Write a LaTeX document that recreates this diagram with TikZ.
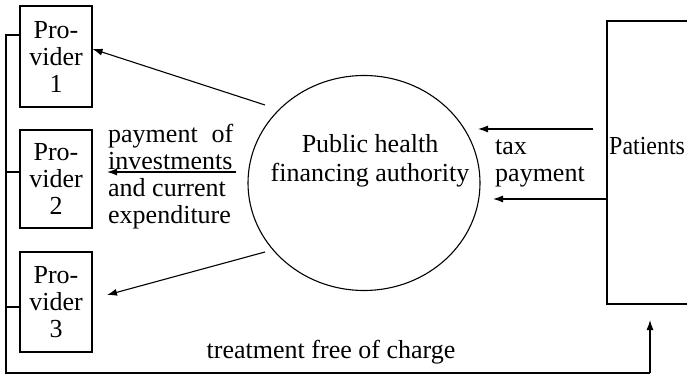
\documentclass[tikz,border=0pt]{standalone}
\usepackage{fontspec}
\setmainfont{Liberation Serif}
\usetikzlibrary{arrows.meta,shapes.geometric}
\begin{document}
\begin{tikzpicture}[x=1pt,y=-1pt,
  every node/.style={font=\fontsize{26}{27}\selectfont},
  prov/.style={draw,line width=1.1pt,minimum width=72pt,minimum height=101pt,inner sep=0pt,align=center},
  lab/.style={inner sep=0pt,anchor=base west},
  flow/.style={line width=1.1pt,-{Latex[length=10pt,width=7pt]}},
  plain/.style={line width=1.1pt}]
\clip (0,0) rectangle (687,379);
\node[prov] (p1) at (56,56.5) {Pro-\\vider\\1};
\node[prov,minimum height=98pt] (p2) at (56,179) {Pro-\\vider\\2};
\node[prov,minimum height=100pt] (p3) at (56,302) {Pro-\\vider\\3};
\node[draw,ellipse,line width=1.1pt,minimum width=232pt,minimum height=215pt,inner sep=0pt] (auth) at (364,183) {};
\node[inner sep=0pt,anchor=base,font=\fontsize{26}{29}\selectfont] (authtxt) at (370,153) {\begin{tabular}[t]{@{}c@{}}Public health\\financing authority\end{tabular}};
\node[draw,line width=1.1pt,minimum width=100pt,minimum height=283pt,inner sep=0pt] (pat) at (657,162.5) {};
\node[lab] (pattxt) at (609,155) {\scalebox{0.92}[1]{Patients}};
\node[lab] (paylab) at (108,143) {\begin{tabular}[t]{@{}l@{}}\hbox to 125pt{payment\hfill of}\\investments\\and current\\expenditure\end{tabular}};
\node[lab] (taxlab) at (495,155) {\begin{tabular}[t]{@{}l@{}}tax\\payment\end{tabular}};
\node[inner sep=0pt,anchor=base] (treat) at (331,358) {treatment free of charge};
% coordinates
\coordinate (a1s) at (265,105);
\coordinate (a3s) at (265,252);
\coordinate (a2s) at (236,172);
\coordinate (t1s) at (593,129);
\coordinate (t1e) at (478,129);
\coordinate (t2e) at (493,199);
\coordinate (l0) at (6,35);
\coordinate (lb) at (6,373);
\coordinate (rb) at (650,373);
\coordinate (rt) at (650,320);
% arrows
\draw[flow] (a1s) -- (p1.east |- 0,49);
\draw[flow] (a2s) -- (107,172);
\draw[flow] (a3s) -- (107,295);
\draw[flow] (t1s) -- (t1e);
\draw[flow] (pat.west |- t2e) -- (t2e);
\draw[plain] (p1.west |- l0) -- (l0) -- (lb) -- (rb);
\draw[flow] (rb) -- (rt);
\draw[plain] (6,172) -- (p2.west |- 0,172);
\draw[plain] (6,307) -- (p3.west |- 0,307);
\end{tikzpicture}
\end{document}
